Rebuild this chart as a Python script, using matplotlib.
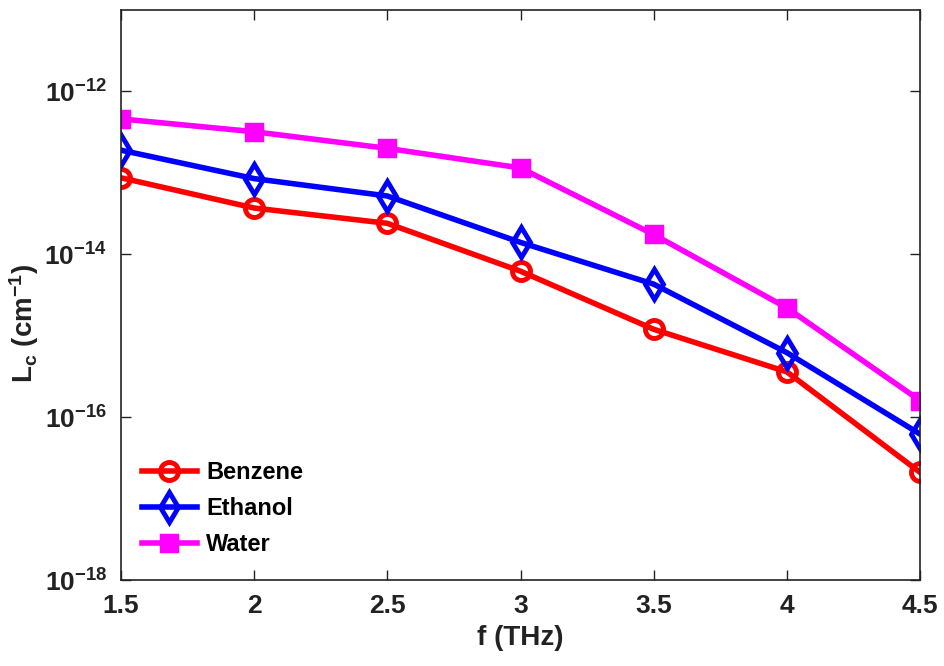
import matplotlib
matplotlib.use("Agg")
import matplotlib.pyplot as plt

freq = [1.5, 2.0, 2.5, 3.0, 3.5, 4.0, 4.5]
benzene = [8.7e-14, 3.7e-14, 2.4e-14, 6.2e-15, 1.2e-15, 3.6e-16, 2.1e-17]
ethanol = [1.9e-13, 8.5e-14, 5.2e-14, 1.4e-14, 4.3e-15, 6.2e-16, 6.2e-17]
water = [4.6e-13, 3.2e-13, 2.0e-13, 1.15e-13, 1.75e-14, 2.2e-15, 1.6e-16]

font = "Liberation Sans"
plt.rcParams["font.family"] = [font, "DejaVu Sans"]
plt.rcParams["font.weight"] = "bold"
plt.rcParams["mathtext.fontset"] = "custom"
plt.rcParams["mathtext.rm"] = font + ":bold"
plt.rcParams["mathtext.it"] = font + ":bold"
plt.rcParams["mathtext.bf"] = font + ":bold"

fig = plt.figure(figsize=(9.45, 6.66), dpi=100)
ax = fig.add_axes([121 / 945, 86 / 666, 799 / 945, 570 / 666])

ax.plot(freq, benzene, color="red", lw=4, marker="o", ms=13, mew=3.5,
        mfc="none", label="Benzene")
ax.plot(freq, ethanol, color="blue", lw=4, marker="d", ms=15, mew=3.5,
        mfc="none", label="Ethanol")
ax.plot(freq, water, color="magenta", lw=4, marker="s", ms=11, mew=2.5,
        mfc="magenta", label="Water")

ax.set_yscale("log")
ax.set_xlim(1.5, 4.5)
ax.set_ylim(1e-18, 1e-11)
ax.set_xticks(freq)
ax.set_xticklabels(["1.5", "2", "2.5", "3", "3.5", "4", "4.5"])
ax.set_yticks([1e-18, 1e-16, 1e-14, 1e-12])
ax.set_yticklabels([r"$\mathbf{10^{-18}}$", r"$\mathbf{10^{-16}}$",
                    r"$\mathbf{10^{-14}}$", r"$\mathbf{10^{-12}}$"])
ax.yaxis.set_minor_locator(matplotlib.ticker.NullLocator())
ax.tick_params(direction="in", length=7, width=1, labelsize=19,
               top=True, right=True, pad=10, colors="#222222")
for s in ax.spines.values():
    s.set_linewidth(1.2)
    s.set_color("#222222")

ax.set_xlabel("f (THz)", fontsize=20, fontweight="bold", labelpad=5,
              color="#222222")
ax.set_ylabel(r"$\mathbf{L_c\ (cm^{-1})}$", fontsize=20, color="#222222")
ax.yaxis.set_label_coords(-80 / 799, 0.45)

leg = ax.legend(loc="lower left", bbox_to_anchor=(0.0, 0.005), frameon=False,
                fontsize=17, handlelength=2.3, labelspacing=0.55,
                handletextpad=0.4)
for t in leg.get_texts():
    t.set_fontweight("bold")

fig.savefig("out.png", dpi=100)
